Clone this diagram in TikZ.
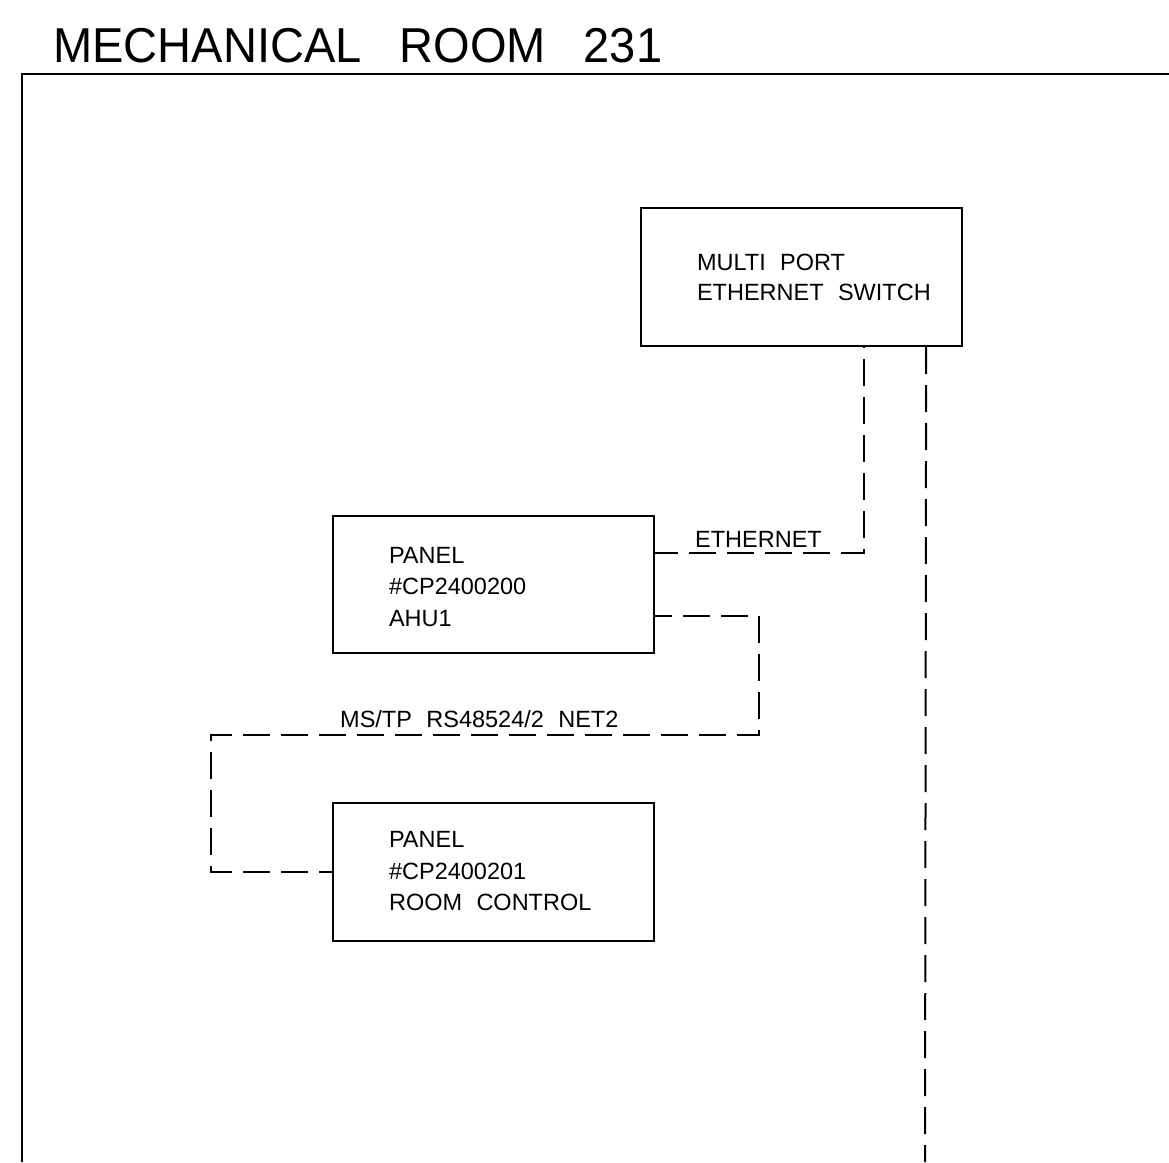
\documentclass[tikz,border=0pt]{standalone}
\usepackage{fontspec}
\newfontfamily\cadfont[WordSpace=2.2]{Liberation Sans}
\newfontfamily\cadtitle[WordSpace=2.9,FakeStretch=0.96]{Liberation Sans}
\begin{document}
\begin{tikzpicture}[x=1pt,y=-1pt,
  box/.style={draw, line width=2.3pt, minimum width=321pt, minimum height=137pt, inner sep=0pt},
  boxtext/.style={anchor=west, align=left, inner sep=0pt, font={\cadfont\fontsize{23.5}{31.5}\selectfont}},
  lbl/.style={anchor=base west, inner sep=0pt, font={\cadfont\fontsize{23.5}{30}\selectfont}},
  dline/.style={line width=2pt, dash pattern=on 27pt off 11pt},
  frame/.style={line width=2pt}]
\useasboundingbox (0,0) rectangle (1169,1162);

\node[anchor=base west, inner sep=0pt, font={\cadtitle\fontsize{49}{50}\selectfont}] (title) at (53,62) {MECHANICAL ROOM 231};

\coordinate (fbl) at (22,1162);
\coordinate (ftl) at (22,74);
\coordinate (ftr) at (1169,74);
\draw[frame] (fbl) -- (ftl) -- (ftr);

\node[box, minimum height=138pt] (sw) at (801.5,277) {};
\node[boxtext, font={\cadfont\fontsize{23.5}{30}\selectfont}] (swt) at ([xshift=57pt]sw.west) {MULTI PORT\\ETHERNET SWITCH};

\node[box] (p1) at (493.5,584.5) {};
\node[boxtext] (p1t) at ([xshift=57pt,yshift=-2.5pt]p1.west) {PANEL\\\#CP2400200\\AHU1};

\node[box, minimum height=138pt] (p2) at (493.5,872) {};
\node[boxtext] (p2t) at ([xshift=57pt,yshift=0.5pt]p2.west) {PANEL\\\#CP2400201\\ROOM CONTROL};

\coordinate (k1) at (759,735);
\coordinate (k2) at (211,872);
\coordinate (swend) at (925,1162);

\draw[dline, dash phase=4pt] ([yshift=31.5pt]p1.east) -| ([xshift=-99pt]sw.south east);
\draw[dline] ([xshift=-37pt]sw.south east) -- (swend);
\draw[dline, dash phase=10pt] ([yshift=-31.5pt]p1.east) -| (k1) -| (k2) -- (p2.west);

\node[lbl] (ethlbl) at (695,547) {ETHERNET};
\node[lbl] (mslbl) at (340,727) {MS/TP RS48524/2 NET2};
\end{tikzpicture}
\end{document}
